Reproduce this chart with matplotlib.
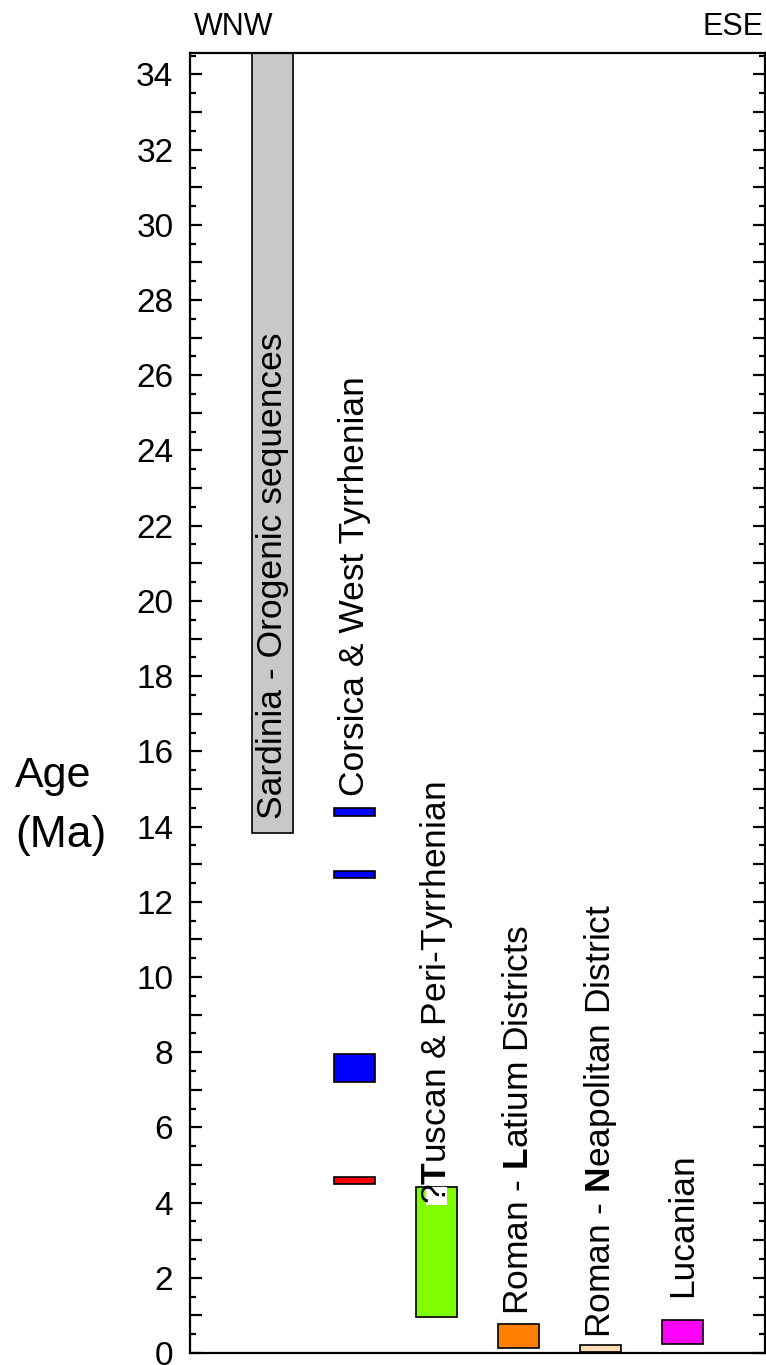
import numpy as np
import matplotlib
matplotlib.use("Agg")
import matplotlib.pyplot as plt
from matplotlib.ticker import MultipleLocator, FuncFormatter

plt.rcParams['font.family'] = ['Liberation Sans', 'DejaVu Sans']
plt.rcParams['mathtext.fontset'] = 'custom'
plt.rcParams['mathtext.rm'] = 'Liberation Sans'
plt.rcParams['mathtext.bf'] = 'Liberation Sans:bold'

# columns, west to east
columns = [1, 2, 3, 4, 5, 6]
labels = ["Sardinia - Orogenic sequences",
          "Corsica & West Tyrrhenian",
          r"?$\mathbf{T}$uscan & Peri-Tyrrhenian",
          r"Roman - $\mathbf{L}$atium Districts",
          r"Roman - $\mathbf{N}$eapolitan District",
          "Lucanian"]
label_start = [14.2, 14.8, 3.95, 1.0, 0.4, 1.5]

# age ranges (Ma): column, bottom, top, colour
bar_col = [1, 2, 2, 2, 2, 3, 4, 5, 6]
bar_bottom = [13.83, 14.28, 12.63, 7.2, 4.49, 0.96, 0.13, 0.02, 0.24]
bar_top = [34.6, 14.5, 12.82, 7.95, 4.68, 4.41, 0.77, 0.2, 0.88]
bar_color = ['#c8c8c8', '#0000ff', '#0000ff', '#0000ff', '#ff0000',
             '#80ff00', '#ff8000', '#ffdcb4', '#ff00ff']

fig = plt.figure(figsize=(7.66, 13.65), dpi=100)
ax = fig.add_axes([190/766, 12/1365, 575/766, 1300/1365])

heights = np.array(bar_top) - np.array(bar_bottom)
ax.bar(bar_col, heights, bottom=bar_bottom, width=0.5, color=bar_color,
       edgecolor='black', linewidth=1.2, zorder=2)

# white patch behind the "?" on the Tuscan bar
ax.bar([3], [4.41 - 3.94], bottom=[3.94], width=0.26, color='white',
       linewidth=0, zorder=3)

for c, lab, y0 in zip(columns, labels, label_start):
    ax.text(c, y0, lab, rotation=90, ha='center', va='bottom',
            fontsize=25.5, zorder=4)

ax.set_xlim(0, 7)
ax.set_ylim(0, 34.57)
ax.set_xticks([])
ax.yaxis.set_major_locator(MultipleLocator(1))
ax.yaxis.set_minor_locator(MultipleLocator(0.5))
ax.yaxis.set_major_formatter(FuncFormatter(lambda v, p: "%d" % v if int(round(v)) % 2 == 0 else ""))
ax.tick_params(axis='y', which='both', direction='in', left=True, right=True,
               labelsize=24, pad=12, width=1.6)
ax.tick_params(axis='y', which='major', length=8.5)
ax.tick_params(axis='y', which='minor', length=4.3)
for s in ax.spines.values():
    s.set_linewidth(1.6)

fig.text(15/766, 1 - 787/1365, "Age", fontsize=31, ha='left', va='baseline')
fig.text(15/766, 1 - 847/1365, "(Ma)", fontsize=32, ha='left', va='baseline')
fig.text(194/766, 1 - 35/1365, "WNW", fontsize=22, ha='left', va='baseline')
fig.text(764/766, 1 - 35/1365, "ESE", fontsize=22, ha='right', va='baseline')

fig.savefig("out.png", dpi=100)
